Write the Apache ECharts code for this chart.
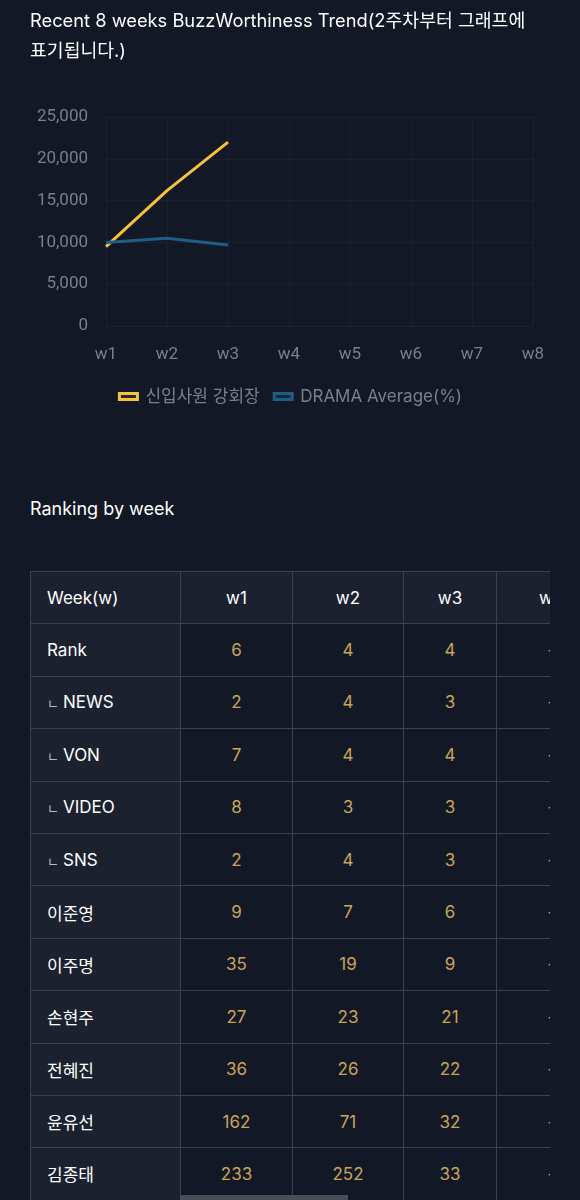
<!DOCTYPE html>
<html>
<head>
<meta charset="utf-8">
<script src="https://cdn.jsdelivr.net/npm/echarts@6/dist/echarts.min.js"></script>
<style>
  html, body { margin: 0; padding: 0; background: #131826; }
  body { width: 580px; height: 1200px; position: relative; overflow: hidden;
         font-family: Inter, "Noto Sans CJK KR", sans-serif; color: #fff; }
  .title { position: absolute; left: 30px; top: 5px; width: 510px; font-size: 18.3px; line-height: 30px; z-index: 2; }
  #chart { position: absolute; left: 0; top: 0; width: 580px; height: 440px; }
  .sub { position: absolute; left: 30px; top: 496px; font-size: 18px; line-height: 26px; }
  .wrap { position: absolute; left: 30px; top: 571px; width: 520px; height: 640px; overflow: hidden; }
  table { border-collapse: collapse; table-layout: fixed; font-size: 17px; width: 1016px; }
  td, th { border: 1px solid #3b4150; height: 51.4px; padding: 0; text-align: center; font-weight: normal; }
  th { background: #1c2130; color: #fff; }
  td { background: #131826; color: #c9a558; }
  td.lab { background: #1c2130; color: #fff; text-align: left; padding-left: 16px; }
  .mark { font-size: 13px; color: #bbb; margin-right: 4px; }
  .thumb { position: absolute; left: 180px; top: 1195px; width: 168px; height: 5px; background: #4a4d56; }
</style>
</head>
<body>
<div id="chart"></div>
<div class="title">Recent 8 weeks BuzzWorthiness Trend(2주차부터 그래프에 표기됩니다.)</div>
<div class="sub">Ranking by week</div>
<div class="wrap"><table id="tbl"></table></div>
<div class="thumb"></div>
<script>
// chart data
const weeks = ['w1', 'w2', 'w3', 'w4', 'w5', 'w6', 'w7', 'w8']
const mainName = '신입사원 강회장'
const avgName = 'DRAMA Average(%)'
const mainValues = [9500, 16200, 22000]
const avgValues = [10000, 10500, 9700]

// table data
const rowLabels = ['Rank', 'NEWS', 'VON', 'VIDEO', 'SNS', '이준영', '이주명', '손현주', '전혜진', '윤유선', '김종태']
const subRows = ['NEWS', 'VON', 'VIDEO', 'SNS']
const w1Ranks = [6, 2, 7, 8, 2, 9, 35, 27, 36, 162, 233]
const w2Ranks = [4, 4, 4, 3, 4, 7, 19, 23, 26, 71, 252]
const w3Ranks = [4, 3, 4, 3, 3, 6, 9, 21, 22, 32, 33]

const chart = echarts.init(document.getElementById('chart'))
chart.setOption({
  backgroundColor: 'transparent',
  grid: { left: 106, right: 47, top: 117, height: 209 },
  legend: {
    top: 383,
    left: 'center',
    itemWidth: 18,
    itemHeight: 6,
    itemGap: 13,
    textStyle: { color: '#7b7f88', fontSize: 17, padding: [0, 0, 0, 3], fontFamily: 'Inter, "Noto Sans CJK KR"' },
    data: [
      { name: mainName, icon: 'rect', itemStyle: { color: '#2a2a22', borderColor: '#f5c13f', borderWidth: 3 } },
      { name: avgName, icon: 'rect', itemStyle: { color: '#18283a', borderColor: '#1e5d88', borderWidth: 3 } }
    ]
  },
  xAxis: {
    type: 'category',
    boundaryGap: false,
    data: weeks,
    axisLine: { lineStyle: { color: '#1d2230' } },
    axisTick: { show: false },
    axisLabel: { color: '#7b7f88', fontSize: 17, margin: 20, fontFamily: 'Roboto' },
    splitLine: { show: true, lineStyle: { color: '#1b2030' } }
  },
  yAxis: {
    type: 'value',
    min: 0,
    max: 25000,
    interval: 5000,
    axisLine: { show: false },
    axisTick: { show: false },
    axisLabel: {
      color: '#7b7f88', fontSize: 17, margin: 18, fontFamily: 'Roboto',
      formatter: v => v.toLocaleString('en-US')
    },
    splitLine: { lineStyle: { color: '#1b2030' } }
  },
  series: [
    {
      name: mainName,
      type: 'line',
      data: mainValues,
      showSymbol: false,
      lineStyle: { color: '#f5c13f', width: 3 },
      itemStyle: { color: '#f5c13f' }
    },
    {
      name: avgName,
      type: 'line',
      data: avgValues,
      showSymbol: false,
      lineStyle: { color: '#1e5d88', width: 3 },
      itemStyle: { color: '#1e5d88' }
    }
  ]
})

// build table
const colWidths = [150, 112, 111, 93, 110, 110, 110, 110, 110]
const tbl = document.getElementById('tbl')
let html = '<colgroup>' + colWidths.map(w => '<col style="width:' + w + 'px">').join('') + '</colgroup>'
html += '<tr><th style="text-align:left;padding-left:16px">Week(w)</th>' + weeks.map(w => '<th>' + w + '</th>').join('') + '</tr>'
rowLabels.forEach((lab, i) => {
  const vals = [w1Ranks[i], w2Ranks[i], w3Ranks[i], '-', '-', '-', '-', '-']
  const labHtml = subRows.includes(lab) ? '<span class="mark">ㄴ</span>' + lab : lab
  html += '<tr><td class="lab">' + labHtml + '</td>' + vals.map(v => '<td>' + v + '</td>').join('') + '</tr>'
})
tbl.innerHTML = html
</script>
</body>
</html>
